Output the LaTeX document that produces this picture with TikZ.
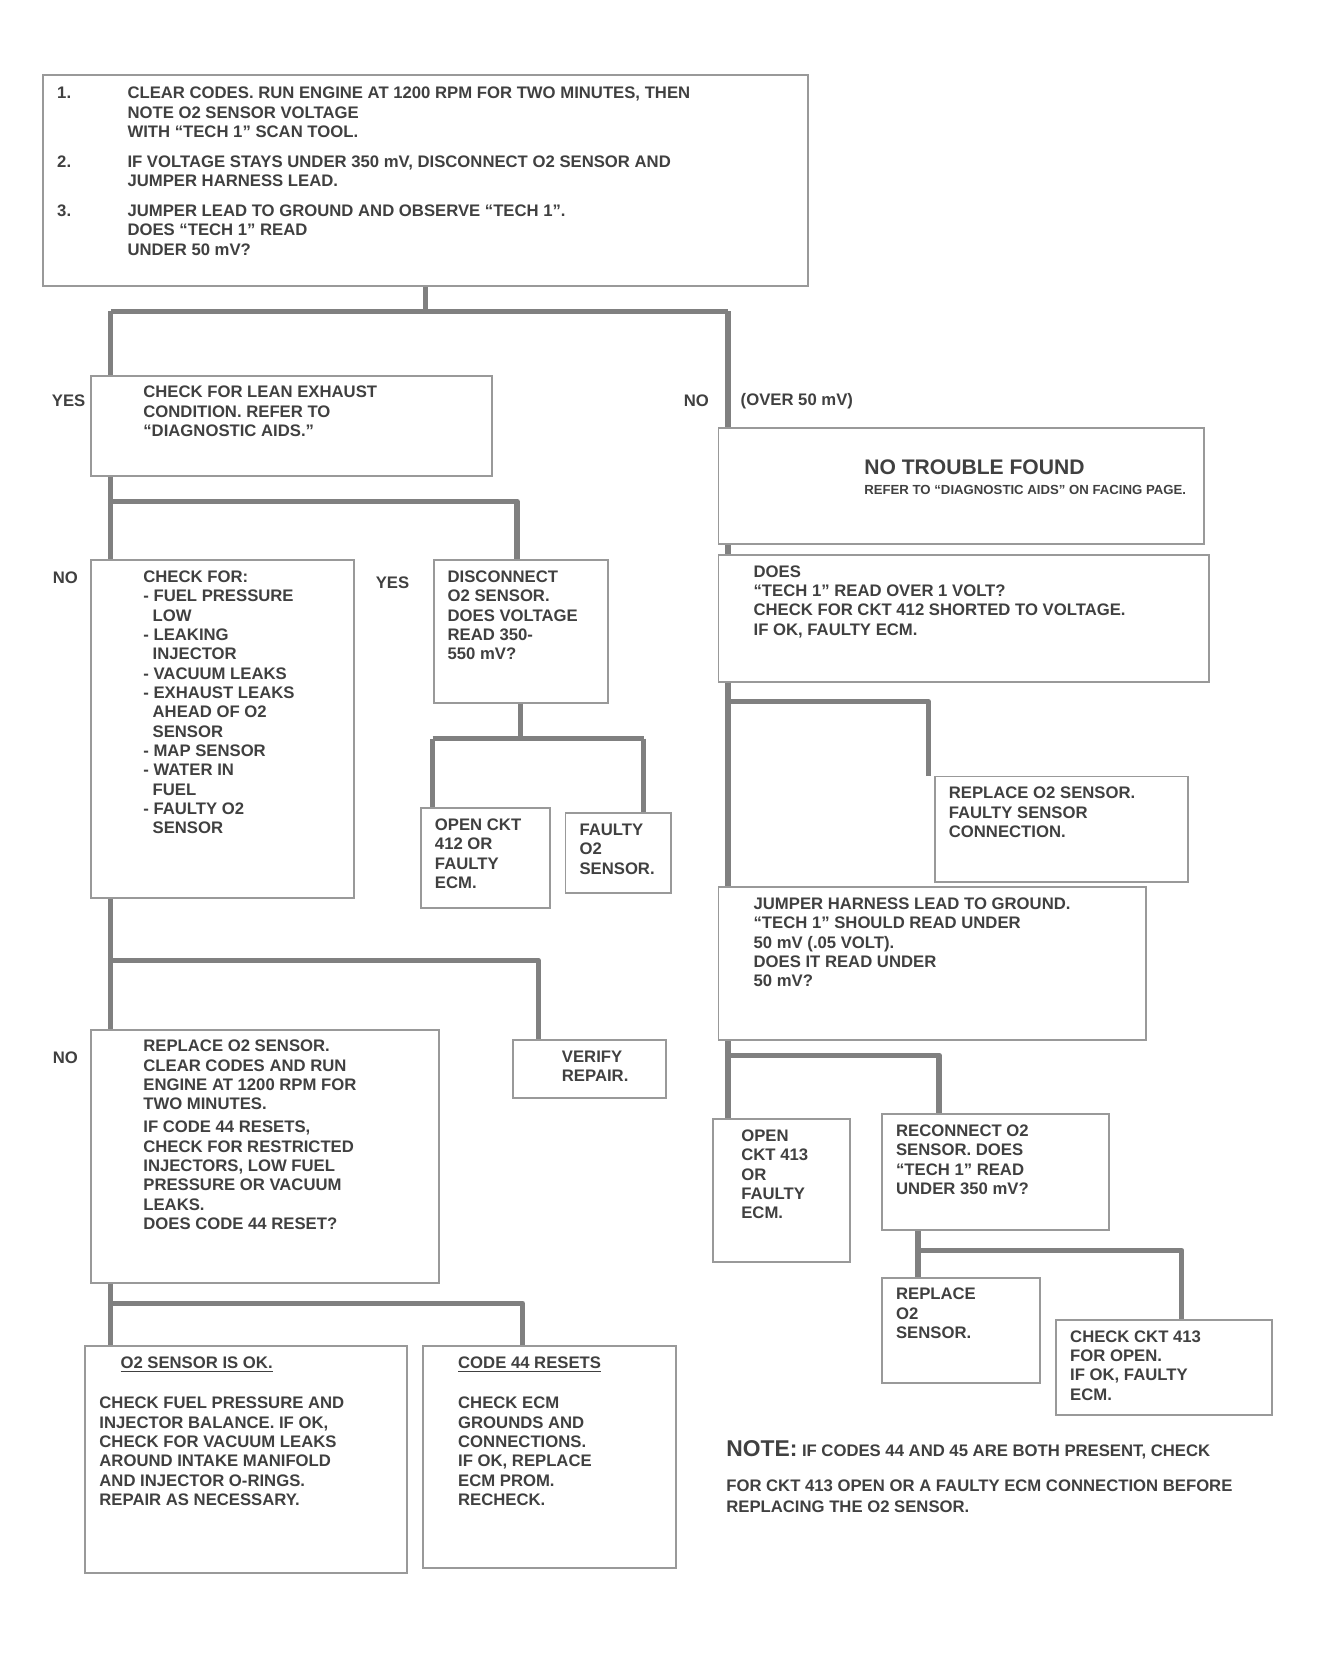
\documentclass[tikz,border=0pt]{standalone}
\usepackage{fontspec}
\setmainfont{Liberation Sans}
\usetikzlibrary{arrows.meta}
\newlength\upx \setlength\upx{0.0211cm}
\newcommand\txbox[3]{\begin{minipage}[t][\dimexpr #2\upx-12pt\relax][t]{\dimexpr #1\upx-16pt\relax}\raggedright #3\end{minipage}}
\begin{document}
\begin{tikzpicture}[x=0.0211cm,y=-0.0211cm,
  frame/.style={draw=black!40, line width=1.1pt, anchor=north west, inner xsep=8pt, inner ysep=6pt,
    font=\fontsize{9.5}{11}\selectfont\bfseries, text=black!75},
  flow/.style={draw=black!50, line width=3pt, line join=round},
  lbl/.style={font=\fontsize{9.5}{10}\selectfont\bfseries, text=black!75, inner sep=1pt}]
\useasboundingbox (0,0) rectangle (1248,1577);
\fill[white] (0,0) rectangle (1248,1577);

% ---------- top box ----------
\node[frame] (top) at (40,70) {\txbox{725}{200}{%
\begin{tabular}{@{}p{40pt}@{}l@{}}
1. & CLEAR CODES. RUN ENGINE AT 1200 RPM FOR TWO MINUTES, THEN\\
   & NOTE O2 SENSOR VOLTAGE\\
   & WITH ``TECH 1'' SCAN TOOL.\\[6pt]
2. & IF VOLTAGE STAYS UNDER 350 mV, DISCONNECT O2 SENSOR AND\\
   & JUMPER HARNESS LEAD.\\[6pt]
3. & JUMPER LEAD TO GROUND AND OBSERVE ``TECH 1''.\\
   & DOES ``TECH 1'' READ\\
   & UNDER 50 mV?
\end{tabular}}};

% ---------- left column ----------
\node[frame] (A) at (85,355) {\txbox{380}{95}{\leftskip=22pt CHECK FOR LEAN EXHAUST\\CONDITION. REFER TO\\``DIAGNOSTIC AIDS.''}};

\node[frame] (B) at (85,530) {\txbox{250}{320}{\leftskip=22pt CHECK FOR:\\
- FUEL PRESSURE\\ \ \ LOW\\
- LEAKING\\ \ \ INJECTOR\\
- VACUUM LEAKS\\
- EXHAUST LEAKS\\ \ \ AHEAD OF O2\\ \ \ SENSOR\\
- MAP SENSOR\\
- WATER IN\\ \ \ FUEL\\
- FAULTY O2\\ \ \ SENSOR}};

\node[frame] (C) at (410,530) {\txbox{165}{135}{DISCONNECT\\O2 SENSOR.\\DOES VOLTAGE\\READ 350-\\550 mV?}};

\node[frame] (D1) at (398,765) {\txbox{122}{95}{OPEN CKT\\412 OR\\FAULTY\\ECM.}};
\node[frame] (D2) at (535,770) {\txbox{100}{75}{FAULTY\\O2\\SENSOR.}};

\node[frame] (E) at (485,985) {\txbox{145}{55}{\leftskip=20pt VERIFY\\REPAIR.}};

\node[frame] (F) at (85,975) {\txbox{330}{240}{\leftskip=22pt REPLACE O2 SENSOR.\\
CLEAR CODES AND RUN\\ENGINE AT 1200 RPM FOR\\TWO MINUTES.\\[2pt]
IF CODE 44 RESETS,\\CHECK FOR RESTRICTED\\INJECTORS, LOW FUEL\\PRESSURE OR VACUUM\\LEAKS.\\
DOES CODE 44 RESET?}};

\node[frame] (G) at (80,1275) {\txbox{305}{215}{\hspace*{12pt}\underline{O2 SENSOR IS OK.}\\[12pt]
CHECK FUEL PRESSURE AND\\INJECTOR BALANCE. IF OK,\\CHECK FOR VACUUM LEAKS\\AROUND INTAKE MANIFOLD\\AND INJECTOR O-RINGS.\\REPAIR AS NECESSARY.}};

\node[frame] (H) at (400,1275) {\txbox{240}{210}{\leftskip=12pt \underline{CODE 44 RESETS}\\[12pt]
CHECK ECM\\GROUNDS AND\\CONNECTIONS.\\IF OK, REPLACE\\ECM PROM.\\RECHECK.}};

% ---------- right column ----------
\node[frame] (R1) at (680,405) {\txbox{460}{110}{\vspace*{12pt}\leftskip=75pt {\fontsize{12}{14}\selectfont NO TROUBLE FOUND}\\
{\fontsize{7.5}{10}\selectfont REFER TO ``DIAGNOSTIC AIDS'' ON FACING PAGE.}}};

\node[frame] (R2) at (680,525) {\txbox{465}{120}{\leftskip=12pt DOES\\
``TECH 1'' READ OVER 1 VOLT?\\
CHECK FOR CKT 412 SHORTED TO VOLTAGE.\\
IF OK, FAULTY ECM.}};

\node[frame] (R3) at (885,735) {\txbox{240}{100}{REPLACE O2 SENSOR.\\FAULTY SENSOR\\CONNECTION.}};

\node[frame] (R4) at (680,840) {\txbox{405}{145}{\leftskip=12pt JUMPER HARNESS LEAD TO GROUND.\\
``TECH 1'' SHOULD READ UNDER\\50 mV (.05 VOLT).\\
DOES IT READ UNDER\\50 mV?}};

\node[frame] (R5) at (675,1060) {\txbox{130}{135}{\leftskip=8pt OPEN\\CKT 413\\OR\\FAULTY\\ECM.}};

\node[frame] (R6) at (835,1055) {\txbox{215}{110}{RECONNECT O2\\SENSOR. DOES\\``TECH 1'' READ\\UNDER 350 mV?}};

\node[frame] (R7) at (835,1210) {\txbox{150}{100}{REPLACE\\O2\\SENSOR.}};

\node[frame] (R8) at (1000,1250) {\txbox{205}{90}{CHECK CKT 413\\FOR OPEN.\\IF OK, FAULTY\\ECM.}};

\node[anchor=north west, inner sep=0pt, align=left, font=\fontsize{9.5}{12}\selectfont\bfseries, text=black!75] (note) at (688,1365)
 {{\fontsize{13}{13}\selectfont NOTE:} IF CODES 44 AND 45 ARE BOTH PRESENT, CHECK\\[8pt]
  FOR CKT 413 OPEN OR A FAULTY ECM CONNECTION BEFORE\\
  REPLACING THE O2 SENSOR.};

% ---------- branch labels ----------
\node[lbl] (l1) at (65,380) {YES};
\node[lbl] (l2) at (660,380) {NO};
\node[lbl, anchor=west] (l2b) at (700,380) {(OVER 50 mV)};
\node[lbl] (l3) at (62,548) {NO};
\node[lbl] (l4) at (372,552) {YES};
\node[lbl] (l5) at (62,1002) {NO};

% ---------- connectors ----------
\coordinate (tL) at (105,295);
\coordinate (tR) at (690,295);
\draw[flow] (top.south) -- (top.south |- tL);
\draw[flow] (tL) -- (tR);
\draw[flow] (tL) -- (tL |- A.north);
\draw[flow] (tR) -- (tR |- R1.north);

\coordinate (aL) at (105,475);
\coordinate (aR) at (490,475);
\draw[flow] (aL |- A.south) -- (aL) -- (aR) -- (aR |- C.north);
\draw[flow] (aL) -- (aL |- B.north);

\coordinate (cL) at (410,700);
\coordinate (cR) at (610,700);
\draw[flow] (C.south) -- (C.south |- cL);
\draw[flow] (cL) -- (cR);
\draw[flow] (cL) -- (cL |- D1.north);
\draw[flow] (cR) -- (cR |- D2.north);

\coordinate (bL) at (105,910);
\coordinate (bR) at (510,910);
\draw[flow] (bL |- B.south) -- (bL) -- (bR) -- (bR |- E.north);
\draw[flow] (bL) -- (bL |- F.north);

\coordinate (fL) at (105,1235);
\coordinate (fR) at (495,1235);
\draw[flow] (fL |- F.south) -- (fL) -- (fR) -- (fR |- H.north);
\draw[flow] (fL) -- (fL |- G.north);

\draw[flow] (tR |- R1.south) -- (tR |- R2.north);

\coordinate (r2L) at (690,665);
\coordinate (r2R) at (880,665);
\draw[flow] (tR |- R2.south) -- (r2L) -- (r2R) -- (r2R |- R3.north);
\draw[flow] (r2L) -- (r2L |- R4.north);

\coordinate (r4L) at (690,1000);
\coordinate (r4R) at (890,1000);
\draw[flow] (r4L |- R4.south) -- (r4L) -- (r4R) -- (r4R |- R6.north);
\draw[flow] (r4L) -- (r4L |- R5.north);

\coordinate (r6L) at (870,1185);
\coordinate (r6R) at (1120,1185);
\draw[flow] (r6L |- R6.south) -- (r6L) -- (r6R) -- (r6R |- R8.north);
\draw[flow] (r6L) -- (r6L |- R7.north);
\end{tikzpicture}
\end{document}
